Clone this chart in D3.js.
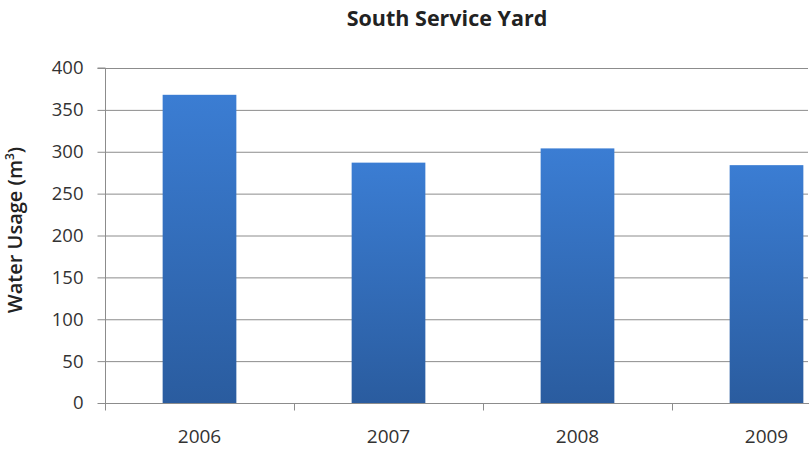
<!DOCTYPE html>
<html>
<head>
<meta charset="utf-8">
<script src="https://cdn.jsdelivr.net/npm/d3@7"></script>
<style>
  html, body { margin: 0; padding: 0; background: #fff; }
  svg { display: block; }
  text { font-family: "Open Sans", "Lato", sans-serif; }
</style>
</head>
<body>
<svg id="chart" width="809" height="449"></svg>
<script>
// Annual water usage, South Service Yard
const years = ["2006", "2007", "2008", "2009"];
const usage = [368, 287, 304, 284];
const yTicks = [0, 50, 100, 150, 200, 250, 300, 350, 400];

const svg = d3.select("#chart");
const plotLeft = 105, plotTop = 68, plotBottom = 403;
const bandW = 189;
const plotRight = plotLeft + bandW * years.length; // plot runs past the right edge

const x = d3.scaleBand().domain(years).range([plotLeft, plotRight]).paddingInner(0.61).paddingOuter(0.305);
const y = d3.scaleLinear().domain([0, 400]).range([plotBottom, plotTop]);

// gradient fill for the bars
const defs = svg.append("defs");
const grad = defs.append("linearGradient").attr("id", "barFill")
  .attr("x1", 0).attr("y1", 0).attr("x2", 0).attr("y2", 1);
grad.append("stop").attr("offset", "0%").attr("stop-color", "#3b7dd3");
grad.append("stop").attr("offset", "100%").attr("stop-color", "#2a5c9f");

// horizontal gridlines
svg.append("g").selectAll("line").data(yTicks.filter(d => d > 0)).join("line")
  .attr("x1", plotLeft).attr("x2", 808)
  .attr("y1", d => y(d) + 0.5).attr("y2", d => y(d) + 0.5)
  .attr("stroke", "#8c8c8c").attr("stroke-width", 1);

// bars
svg.append("g").selectAll("rect").data(years).join("rect")
  .attr("x", d => x(d))
  .attr("width", x.bandwidth())
  .attr("y", (d, i) => y(usage[i]))
  .attr("height", (d, i) => y(0) - y(usage[i]))
  .attr("fill", "url(#barFill)");

// y axis
const yAxis = svg.append("g").attr("transform", `translate(${plotLeft + 0.5},0)`)
  .call(d3.axisLeft(y).tickValues(yTicks).tickSize(8).tickPadding(14));
yAxis.select(".domain").attr("stroke", "#8c8c8c").attr("d", `M-8,${plotTop}H0V${plotBottom}`);
yAxis.selectAll(".tick line").attr("stroke", "#8c8c8c");
yAxis.selectAll(".tick text").attr("font-size", 18.5).attr("fill", "#333")
  .attr("font-family", "\"Open Sans\", sans-serif");

// x axis with category boundary ticks
const xAxisG = svg.append("g").attr("transform", `translate(0,${plotBottom + 0.5})`);
xAxisG.append("line").attr("x1", plotLeft).attr("x2", 809).attr("stroke", "#8c8c8c");
xAxisG.selectAll("line.tk").data(d3.range(years.length + 1)).join("line")
  .attr("class", "tk")
  .attr("x1", i => plotLeft + i * bandW + 0.5).attr("x2", i => plotLeft + i * bandW + 0.5)
  .attr("y1", 0).attr("y2", 7).attr("stroke", "#8c8c8c");
xAxisG.selectAll("text").data(years).join("text")
  .attr("x", d => x(d) + x.bandwidth() / 2)
  .attr("y", 39.5)
  .attr("text-anchor", "middle")
  .attr("font-size", 19).attr("fill", "#333")
  .text(d => d);

// title
svg.append("text").attr("x", 447).attr("y", 26).attr("text-anchor", "middle")
  .attr("font-size", 21.5).attr("font-weight", "bold").attr("fill", "#222")
  .text("South Service Yard");

// y axis title
const yt = svg.append("text")
  .attr("transform", "translate(22,230) rotate(-90)")
  .attr("text-anchor", "middle")
  .attr("font-size", 20).attr("font-weight", 600).attr("fill", "#222");
yt.append("tspan").text("Water Usage (m");
yt.append("tspan").attr("font-size", 12).attr("dy", -8).text("3");
yt.append("tspan").attr("dy", 8).text(")");
</script>
</body>
</html>
